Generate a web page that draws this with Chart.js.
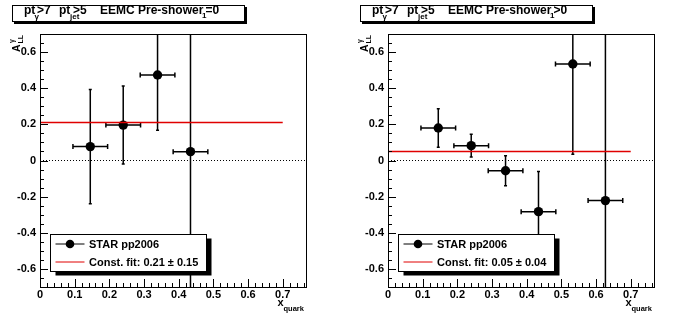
<!DOCTYPE html>
<html lang="en">
<head>
  <meta charset="UTF-8">
  <title>A_LL gamma vs x_quark - EEMC pre-shower</title>
  <script src="https://cdn.jsdelivr.net/npm/chart.js"></script>
  <style>
    body { margin: 0; background: #fff; }
    .panel { position: absolute; top: 0; width: 348px; height: 322px; }
  </style>
</head>
<body>

  <!-- two ROOT-style pads side by side -->
  <div class="panel" style="left:0"><canvas id="pad0" width="348" height="322"></canvas></div>
  <div class="panel" style="left:348px"><canvas id="pad1" width="348" height="322"></canvas></div>

  <script>
    // Axis tick labels
    const xTicks = [0, 0.1, 0.2, 0.3, 0.4, 0.5, 0.6, 0.7];
    const yTicks = [-0.6, -0.4, -0.2, 0, 0.2, 0.4, 0.6];

    // Pre-shower1 = 0
    const xq0 = [0.145, 0.24, 0.339, 0.434];
    const all0 = [0.077, 0.196, 0.473, 0.049];
    const allErr0 = [0.316, 0.216, 0.306, 0.95];
    const xErr0 = [0.05, 0.05, 0.05, 0.05];
    const fit0 = 0.21;
    const fitErr0 = 0.15;

    // Pre-shower1 > 0
    const xq1 = [0.145, 0.24, 0.339, 0.434, 0.533, 0.627];
    const all1 = [0.18, 0.082, -0.057, -0.283, 0.534, -0.222];
    const allErr1 = [0.107, 0.063, 0.083, 0.222, 0.50, 1.0];
    const xErr1 = [0.05, 0.05, 0.05, 0.05, 0.05, 0.05];
    const fit1 = 0.05;
    const fitErr1 = 0.04;

    const FONT = '"Liberation Sans", Arial, sans-serif';
    const RED = '#e00000';

    // Error bars with small end caps, clipped to the frame
    const errorBars = {
      id: 'errorBars',
      beforeDatasetsDraw(chart) {
        const { ctx, chartArea: a, scales: { x, y } } = chart;
        ctx.save();
        ctx.beginPath();
        ctx.rect(a.left, a.top, a.right - a.left, a.bottom - a.top);
        ctx.clip();
        ctx.strokeStyle = '#000';
        ctx.lineWidth = 1.5;
        chart.data.datasets.forEach(ds => {
          if (!ds.yErr) return;
          ds.data.forEach((p, i) => {
            const px = x.getPixelForValue(p.x);
            const py = y.getPixelForValue(p.y);
            const x1 = x.getPixelForValue(p.x - ds.xErr[i]);
            const x2 = x.getPixelForValue(p.x + ds.xErr[i]);
            const y1 = y.getPixelForValue(p.y + ds.yErr[i]);
            const y2 = y.getPixelForValue(p.y - ds.yErr[i]);
            ctx.beginPath();
            ctx.moveTo(x1, py); ctx.lineTo(x2, py);
            ctx.moveTo(x1, py - 2.5); ctx.lineTo(x1, py + 2.5);
            ctx.moveTo(x2, py - 2.5); ctx.lineTo(x2, py + 2.5);
            ctx.moveTo(px, y1); ctx.lineTo(px, y2);
            ctx.moveTo(px - 1.5, y1); ctx.lineTo(px + 1.5, y1);
            ctx.moveTo(px - 1.5, y2); ctx.lineTo(px + 1.5, y2);
            ctx.stroke();
          });
        });
        ctx.restore();
      }
    };

    // Frame, inward ticks, legend, title box and axis titles
    const rootDecor = {
      id: 'rootDecor',
      afterDraw(chart, args, opts) {
        const { ctx, chartArea: a, scales: { x, y } } = chart;
        ctx.save();

        // frame
        ctx.strokeStyle = '#000';
        ctx.lineWidth = 1;
        ctx.strokeRect(a.left + 0.5, a.top + 0.5, a.right - a.left - 1, a.bottom - a.top);

        // ticks (major every label, minor in between)
        ctx.beginPath();
        for (let k = 0; k <= 38; k++) {
          const v = k * 0.02;
          const px = Math.round(x.getPixelForValue(v)) + 0.5;
          const len = k % 5 === 0 ? 8 : 4;
          ctx.moveTo(px, a.bottom); ctx.lineTo(px, a.bottom - len);
        }
        for (let k = -14; k <= 14; k++) {
          const v = k * 0.05;
          const py = Math.round(y.getPixelForValue(v)) + 0.5;
          const len = (k + 14) % 4 === 2 ? 8 : 4;
          ctx.moveTo(a.left, py); ctx.lineTo(a.left + len, py);
        }
        ctx.stroke();

        // legend with shadow
        const lx = a.left + 10.5, ly = 234.5, lw = 156, lh = 37;
        ctx.fillStyle = '#000';
        ctx.fillRect(lx + 5, ly + 4, lw, lh);
        ctx.fillStyle = '#fff';
        ctx.fillRect(lx, ly, lw, lh);
        ctx.strokeRect(lx, ly, lw, lh);
        ctx.beginPath();
        ctx.moveTo(lx + 5, ly + 9.5); ctx.lineTo(lx + 34, ly + 9.5);
        ctx.stroke();
        ctx.fillStyle = '#000';
        ctx.beginPath();
        ctx.arc(lx + 19.5, ly + 9.5, 4.3, 0, Math.PI * 2);
        ctx.fill();
        ctx.strokeStyle = RED;
        ctx.beginPath();
        ctx.moveTo(lx + 5, ly + 27.5); ctx.lineTo(lx + 34, ly + 27.5);
        ctx.stroke();
        ctx.font = 'bold 11px ' + FONT;
        ctx.textBaseline = 'alphabetic';
        ctx.fillText('STAR pp2006', lx + 38.5, ly + 13.5);
        ctx.fillText(opts.fitText, lx + 38.5, ly + 31.5);

        // title box with shadow
        ctx.fillRect(14, 7, 233, 17);
        ctx.fillStyle = '#fff';
        ctx.fillRect(12, 5, 233, 17);
        ctx.strokeStyle = '#000';
        ctx.strokeRect(12.5, 5.5, 232, 16);
        ctx.fillStyle = '#000';
        const big = 'bold 12px ' + FONT, small = 'bold 8px ' + FONT;
        const parts = [
          ['pt', big, 24, 14], ['\u03b3', small, 34.5, 19], ['>7', big, 37, 14],
          ['pt', big, 59, 14], ['jet', small, 70, 19], ['>5', big, 73, 14],
          ['EEMC Pre-shower', big, 100, 14], ['1', small, 202, 17.5], [opts.cut, big, 205.5, 14]
        ];
        parts.forEach(([t, f, px, py]) => { ctx.font = f; ctx.fillText(t, px, py); });

        // y axis title A_LL^gamma, rotated
        ctx.save();
        ctx.translate(19.5, a.top);
        ctx.rotate(-Math.PI / 2);
        ctx.font = 'bold 10.5px ' + FONT;
        ctx.fillText('A', -18, 0);
        ctx.font = 'bold 7px ' + FONT;
        ctx.fillText('LL', -9.5, 3.5);
        ctx.fillText('\u03b3', -9, -5.5);
        ctx.restore();

        // x axis title x_quark
        ctx.font = 'bold 11px ' + FONT;
        ctx.fillText('x', a.right - 29.5, 306);
        ctx.font = 'bold 7.5px ' + FONT;
        ctx.fillText('quark', a.right - 23.5, 310.5);

        ctx.restore();
      }
    };

    function makePanel(id, cut, xs, ys, yErr, xErr, fit, fitErr) {
      const pts = xs.map((v, i) => ({ x: v, y: ys[i] }));
      return new Chart(document.getElementById(id), {
        type: 'scatter',
        data: {
          datasets: [
            {
              type: 'line',
              data: [{ x: 0, y: fit }, { x: 0.7, y: fit }],
              borderColor: RED, borderWidth: 1.5, pointRadius: 0
            },
            {
              data: pts, yErr: yErr, xErr: xErr,
              pointRadius: 4.7, backgroundColor: '#000', borderColor: '#000', borderWidth: 0
            },
            {
              type: 'line',
              data: [{ x: 0, y: 0 }, { x: 0.77, y: 0 }],
              borderColor: '#000', borderWidth: 1, borderDash: [1, 2], pointRadius: 0
            }
          ]
        },
        options: {
          responsive: false,
          animation: false,
          layout: { padding: { top: 34, right: 41, bottom: 0, left: 0 } },
          plugins: {
            legend: { display: false },
            tooltip: { enabled: false },
            rootDecor: { cut: cut, fitText: `Const. fit: ${fit.toFixed(2)} \u00b1 ${fitErr.toFixed(2)}` }
          },
          scales: {
            x: {
              type: 'linear', min: 0, max: 0.77,
              afterBuildTicks: s => { s.ticks = xTicks.map(v => ({ value: v })); },
              afterFit: s => { s.height = 35; },
              grid: { display: false, drawTicks: false },
              border: { display: false },
              ticks: {
                autoSkip: false, maxRotation: 0, padding: 1, color: '#000',
                font: { family: FONT, size: 11, weight: 'bold' },
                callback: v => v === 0 ? '0' : v.toFixed(1)
              }
            },
            y: {
              type: 'linear', min: -0.7, max: 0.7,
              afterBuildTicks: s => { s.ticks = yTicks.map(v => ({ value: v })); },
              afterFit: s => { s.width = 40; },
              grid: { display: false, drawTicks: false },
              border: { display: false },
              ticks: {
                autoSkip: false, padding: 4, color: '#000',
                font: { family: FONT, size: 11, weight: 'bold' },
                callback: v => Math.abs(v) < 1e-9 ? '0' : v.toFixed(1)
              }
            }
          }
        },
        plugins: [errorBars, rootDecor]
      });
    }

    makePanel('pad0', '=0', xq0, all0, allErr0, xErr0, fit0, fitErr0);
    makePanel('pad1', '>0', xq1, all1, allErr1, xErr1, fit1, fitErr1);
  </script>
</body>
</html>
